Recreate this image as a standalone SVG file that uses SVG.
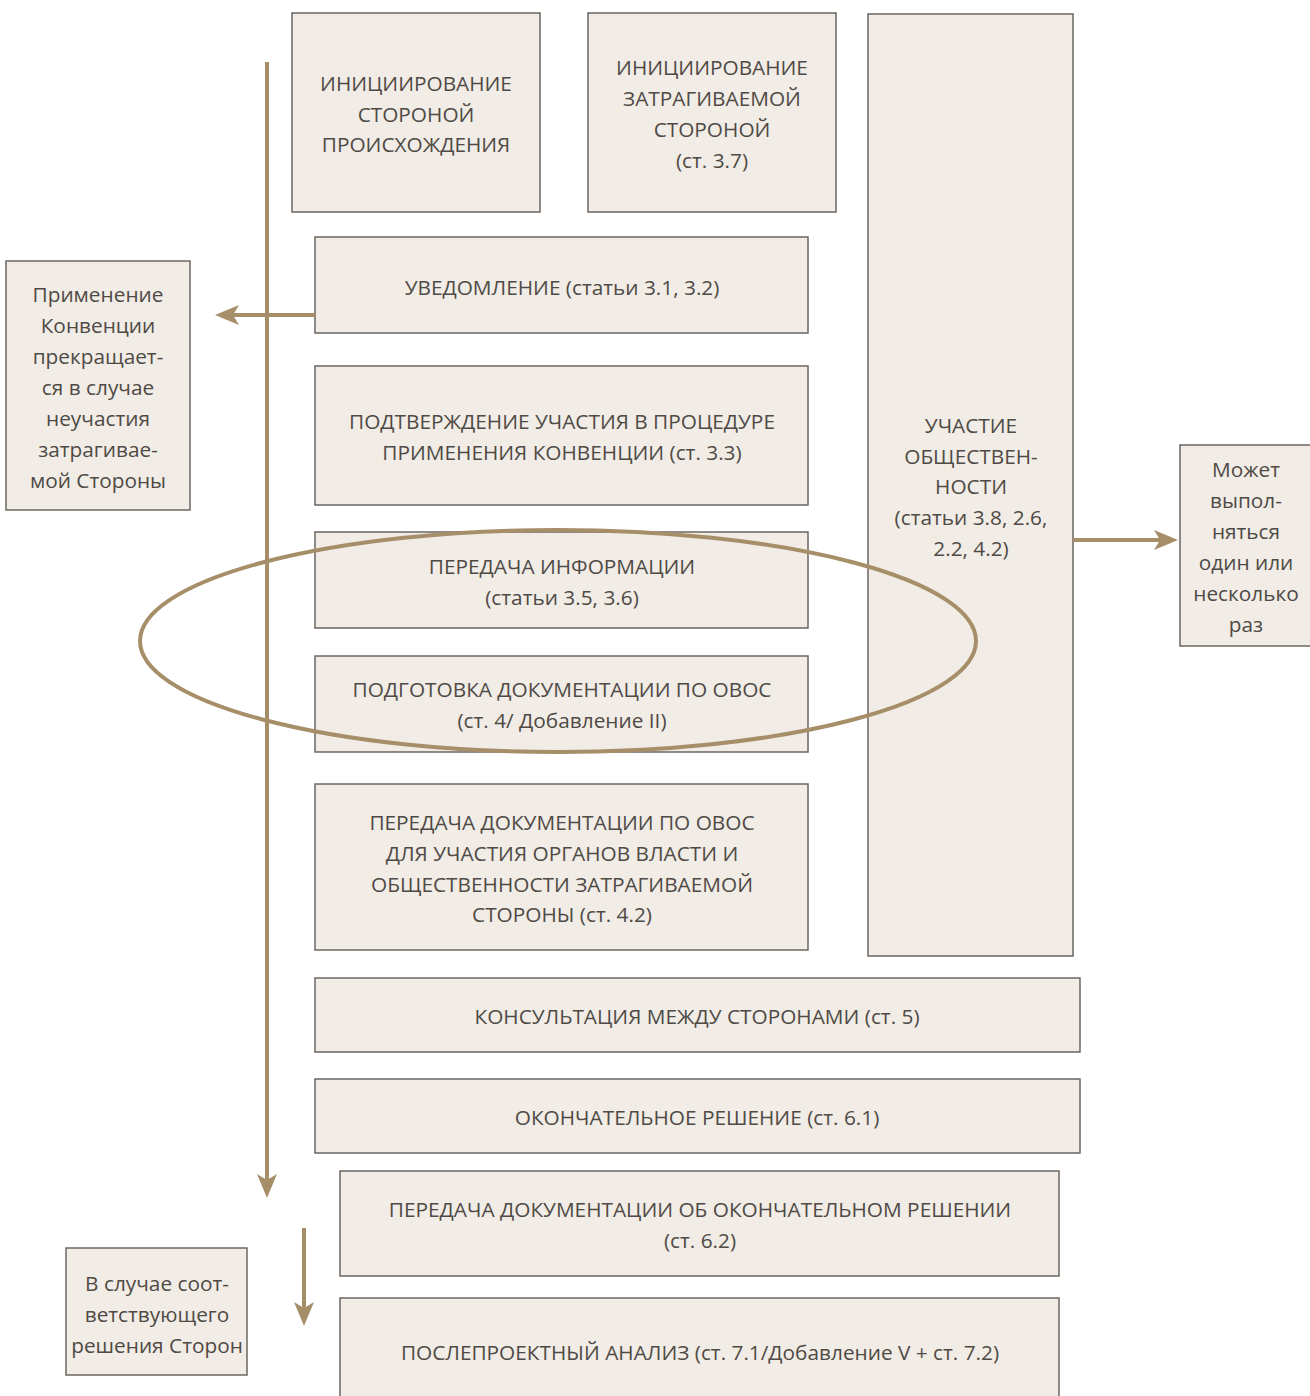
<svg xmlns="http://www.w3.org/2000/svg" width="1310" height="1396" viewBox="0 0 1310 1396">
<style>
.box{fill:#f1ece6;stroke:#6b6661;stroke-width:1.5}
.t{font-family:"Open Sans","Noto Sans",sans-serif;font-size:20.8px;fill:#4f4a45;text-anchor:middle}
.ln{stroke:#a68f68;stroke-width:4;fill:none}
</style>
<defs>
<marker id="ah" markerUnits="userSpaceOnUse" viewBox="0 0 24 20" markerWidth="24" markerHeight="20" refX="14" refY="10" orient="auto">
<path d="M0,0 L24,10 L0,20 L6,10 Z" fill="#a68f68"/>
</marker>
</defs>
<rect width="1310" height="1396" fill="#fff"/>
<g id="n-origin"><rect class="box" x="292" y="13" width="248" height="199"/>
<text class="t" x="416" y="91">ИНИЦИИРОВАНИЕ</text><text class="t" x="416" y="122">СТОРОНОЙ</text><text class="t" x="416" y="152">ПРОИСХОЖДЕНИЯ</text></g>
<g id="n-affected"><rect class="box" x="588" y="13" width="248" height="199"/>
<text class="t" x="712" y="75">ИНИЦИИРОВАНИЕ</text><text class="t" x="712" y="106">ЗАТРАГИВАЕМОЙ</text><text class="t" x="712" y="137">СТОРОНОЙ</text><text class="t" x="712" y="168">(ст. 3.7)</text></g>
<g id="n-public"><rect class="box" x="868" y="14" width="205" height="942"/>
<text class="t" x="971" y="433">УЧАСТИЕ</text><text class="t" x="971" y="464">ОБЩЕСТВЕН-</text><text class="t" x="971" y="494">НОСТИ</text><text class="t" x="971" y="525">(статьи 3.8, 2.6,</text><text class="t" x="971" y="556">2.2, 4.2)</text></g>
<g id="n-notif"><rect class="box" x="315" y="237" width="493" height="96"/>
<text class="t" x="562" y="295">УВЕДОМЛЕНИЕ (статьи 3.1, 3.2)</text></g>
<g id="n-confirm"><rect class="box" x="315" y="366" width="493" height="139"/>
<text class="t" x="562" y="429">ПОДТВЕРЖДЕНИЕ УЧАСТИЯ В ПРОЦЕДУРЕ</text><text class="t" x="562" y="460">ПРИМЕНЕНИЯ КОНВЕНЦИИ (ст. 3.3)</text></g>
<g id="n-info"><rect class="box" x="315" y="532" width="493" height="96"/>
<text class="t" x="562" y="574">ПЕРЕДАЧА ИНФОРМАЦИИ</text><text class="t" x="562" y="605">(статьи 3.5, 3.6)</text></g>
<g id="n-prep"><rect class="box" x="315" y="656" width="493" height="96"/>
<text class="t" x="562" y="697">ПОДГОТОВКА ДОКУМЕНТАЦИИ ПО ОВОС</text><text class="t" x="562" y="728">(ст. 4/ Добавление II)</text></g>
<g id="n-transfer"><rect class="box" x="315" y="784" width="493" height="166"/>
<text class="t" x="562" y="830">ПЕРЕДАЧА ДОКУМЕНТАЦИИ ПО ОВОС</text><text class="t" x="562" y="861">ДЛЯ УЧАСТИЯ ОРГАНОВ ВЛАСТИ И</text><text class="t" x="562" y="892">ОБЩЕСТВЕННОСТИ ЗАТРАГИВАЕМОЙ</text><text class="t" x="562" y="922">СТОРОНЫ (ст. 4.2)</text></g>
<g id="n-consult"><rect class="box" x="315" y="978" width="765" height="74"/>
<text class="t" x="697" y="1024">КОНСУЛЬТАЦИЯ МЕЖДУ СТОРОНАМИ (ст. 5)</text></g>
<g id="n-final"><rect class="box" x="315" y="1079" width="765" height="74"/>
<text class="t" x="697" y="1125">ОКОНЧАТЕЛЬНОЕ РЕШЕНИЕ (ст. 6.1)</text></g>
<g id="n-finaldoc"><rect class="box" x="340" y="1171" width="719" height="105"/>
<text class="t" x="700" y="1217">ПЕРЕДАЧА ДОКУМЕНТАЦИИ ОБ ОКОНЧАТЕЛЬНОМ РЕШЕНИИ</text><text class="t" x="700" y="1248">(ст. 6.2)</text></g>
<g id="n-post"><rect class="box" x="340" y="1298" width="719" height="110"/>
<text class="t" x="700" y="1360">ПОСЛЕПРОЕКТНЫЙ АНАЛИЗ (ст. 7.1/Добавление V + ст. 7.2)</text></g>
<g id="n-stop"><rect class="box" x="6" y="261" width="184" height="249"/>
<text class="t" x="98" y="302">Применение</text><text class="t" x="98" y="333">Конвенции</text><text class="t" x="98" y="364">прекращает-</text><text class="t" x="98" y="395">ся в случае</text><text class="t" x="98" y="426">неучастия</text><text class="t" x="98" y="457">затрагивае-</text><text class="t" x="98" y="488">мой Стороны</text></g>
<g id="n-repeat"><rect class="box" x="1180" y="445" width="135" height="201"/>
<text class="t" x="1246" y="477">Может</text><text class="t" x="1246" y="508">выпол-</text><text class="t" x="1246" y="539">няться</text><text class="t" x="1246" y="570">один или</text><text class="t" x="1246" y="601">несколько</text><text class="t" x="1246" y="632">раз</text></g>
<g id="n-decision"><rect class="box" x="66" y="1248" width="181" height="127"/>
<text class="t" x="157" y="1291">В случае соот-</text><text class="t" x="157" y="1322">ветствующего</text><text class="t" x="157" y="1353">решения Сторон</text></g>
<g id="connectors">
<ellipse class="ln" cx="558" cy="641" rx="418" ry="111"/>
<line class="ln" x1="267" y1="62" x2="267" y2="1188" marker-end="url(#ah)"/>
<line class="ln" x1="315" y1="315" x2="225" y2="315" marker-end="url(#ah)"/>
<line class="ln" x1="1073" y1="540" x2="1168" y2="540" marker-end="url(#ah)"/>
<line class="ln" x1="304" y1="1228" x2="304" y2="1316" marker-end="url(#ah)"/>
</g>
</svg>
